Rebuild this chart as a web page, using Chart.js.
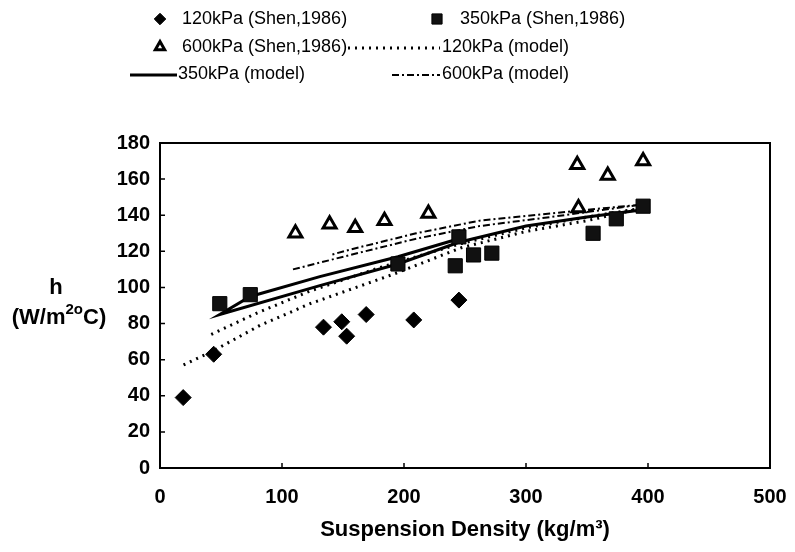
<!DOCTYPE html>
<html>
<head>
<meta charset="utf-8">
<script src="https://cdn.jsdelivr.net/npm/chart.js@4.4.1/dist/chart.umd.min.js"></script>
<style>
  html, body { margin: 0; padding: 0; background: #fff; }
</style>
</head>
<body>
<canvas id="canvas" width="795" height="552"></canvas>
<script>
// measured points, [density kg/m3, h W/m2C]
const shen120 = [[19,39],[44,63],[134,78],[149,81],[153,73],[169,85],[208,82],[245,93]];
const shen350 = [[49,91],[74,96],[195,113],[242,112],[245,128],[257,118],[272,119],[355,130],[374,138],[396,145]];
const shen600 = [[111,130],[139,135],[160,133],[184,137],[220,141],[342,168],[343,144],[367,162],[396,170]];

// model curves (each traced out and back, like in the figure)
const model120 = [[42,74],[80,86],[123,98],[180,111],[245,124],[300,133],[350,139],[396,144],
                  [350,137],[300,131],[247,122],[190,107],[123,91],[82,79],[44,65],[19,57]];
const model350 = [[245,127],[195,117],[131,106],[74,95],[49,85],[131,101],[195,113],[245,125],
                  [300,134],[350,139],[396,143]];
const model600 = [[109,110],[156,118],[210,127],[262,134],[320,139],[396,146],
                  [320,141],[262,137],[210,130],[156,121],[140,118]];

const legendLabels = ['120kPa (Shen,1986)', '350kPa (Shen,1986)', '600kPa (Shen,1986)',
                      '120kPa (model)', '350kPa (model)', '600kPa (model)'];

const xTitle = 'Suspension Density (kg/m\u00b3)';
const yTicks = [0, 20, 40, 60, 80, 100, 120, 140, 160, 180];
const xTicks = [0, 100, 200, 300, 400, 500];

const pts = arr => arr.map(p => ({x: p[0], y: p[1]}));
const FONT = '"Liberation Sans", Arial, sans-serif';

const frame = {
  id: 'frame',
  afterDraw(chart) {
    const {ctx, chartArea: a, scales} = chart;
    ctx.save();
    ctx.strokeStyle = '#000';
    ctx.lineWidth = 2;
    ctx.strokeRect(a.left, a.top, a.right - a.left, a.bottom - a.top);
    ctx.lineWidth = 1.5;
    ctx.beginPath();
    yTicks.forEach(v => {
      const y = scales.y.getPixelForValue(v);
      ctx.moveTo(a.left, y); ctx.lineTo(a.left + 5, y);
    });
    xTicks.forEach(v => {
      const x = scales.x.getPixelForValue(v);
      ctx.moveTo(x, a.bottom); ctx.lineTo(x, a.bottom - 5);
    });
    ctx.stroke();

    // y axis title, horizontal with superscripts
    ctx.fillStyle = '#000';
    ctx.textBaseline = 'middle';
    ctx.textAlign = 'center';
    ctx.font = 'bold 22px ' + FONT;
    ctx.fillText('h', 56, 288);
    const parts = [['(W/m', 22, 0], ['2o', 15, -8], ['C)', 22, 0]];
    let w = 0;
    parts.forEach(p => { ctx.font = 'bold ' + p[1] + 'px ' + FONT; w += ctx.measureText(p[0]).width; });
    let x = 59 - w / 2;
    ctx.textAlign = 'left';
    parts.forEach(p => {
      ctx.font = 'bold ' + p[1] + 'px ' + FONT;
      ctx.fillText(p[0], x, 318 + p[2]);
      x += ctx.measureText(p[0]).width;
    });
    ctx.restore();
  }
};

const legendBox = {
  id: 'legendBox',
  afterDraw(chart) {
    const ctx = chart.ctx;
    const ds = chart.data.datasets;
    // [x of symbol/line start, x of line end, text x, y]
    const spots = [[160, 0, 182, 19], [437, 0, 460, 19], [160, 0, 182, 47],
                   [348, 440, 442, 47], [130, 177, 178, 74], [392, 440, 442, 74]];
    ctx.save();
    ds.forEach((d, i) => {
      const s = spots[i];
      ctx.strokeStyle = '#000';
      if (d.showLine) {
        ctx.lineWidth = d.borderWidth;
        ctx.setLineDash(d.borderDash || []);
        ctx.beginPath();
        ctx.moveTo(s[0], s[3] + 1);
        ctx.lineTo(s[1], s[3] + 1);
        ctx.stroke();
        ctx.setLineDash([]);
      } else {
        ctx.fillStyle = d.pointBackgroundColor;
        ctx.lineWidth = d.pointBorderWidth;
        Chart.helpers.drawPoint(ctx, {
          pointStyle: d.pointStyle,
          radius: d.pointRadius * 0.72,
          rotation: 0,
          borderWidth: d.pointBorderWidth
        }, s[0], s[3]);
      }
      ctx.fillStyle = '#000';
      ctx.font = '18px ' + FONT;
      ctx.textAlign = 'left';
      ctx.textBaseline = 'middle';
      ctx.fillText(legendLabels[i], s[2], s[3]);
    });
    ctx.restore();
  }
};

const ctx = document.getElementById('canvas').getContext('2d');
const myChart = new Chart(ctx, {
  type: 'scatter',
  data: {
    datasets: [{
      data: pts(shen120),
      pointStyle: 'rectRot',
      pointRadius: 8,
      pointBackgroundColor: '#000',
      pointBorderColor: '#000',
      pointBorderWidth: 1
    }, {
      data: pts(shen350),
      pointStyle: 'rect',
      pointRadius: 10,
      pointBackgroundColor: '#111',
      pointBorderColor: '#000',
      pointBorderWidth: 1
    }, {
      data: pts(shen600),
      pointStyle: 'triangle',
      pointRadius: 7.5,
      pointBackgroundColor: '#fff',
      pointBorderColor: '#000',
      pointBorderWidth: 3
    }, {
      data: pts(model120),
      showLine: true,
      pointRadius: 0,
      borderColor: '#000',
      borderWidth: 3,
      borderDash: [2, 5]
    }, {
      data: pts(model350),
      showLine: true,
      pointRadius: 0,
      borderColor: '#000',
      borderWidth: 3
    }, {
      data: pts(model600),
      showLine: true,
      pointRadius: 0,
      borderColor: '#000',
      borderWidth: 2,
      borderDash: [7, 3, 2, 3]
    }]
  },
  options: {
    responsive: false,
    animation: false,
    events: [],
    layout: {
      padding: {top: 143, right: 25, left: 0, bottom: 0}
    },
    scales: {
      x: {
        type: 'linear',
        min: 0,
        max: 500,
        afterFit: s => { s.height = 84; s.paddingLeft = 0; s.paddingRight = 0; },
        afterBuildTicks: s => { s.ticks = xTicks.map(v => ({value: v})); },
        grid: {display: false, drawTicks: false},
        border: {display: false},
        ticks: {color: '#000', padding: 17, font: {family: FONT, size: 20, weight: 'bold'}},
        title: {
          display: true,
          text: xTitle,
          color: '#000',
          padding: {top: 0, bottom: 9},
          font: {family: FONT, size: 22, weight: 'bold'}
        }
      },
      y: {
        min: 0,
        max: 180,
        afterFit: s => { s.width = 160; s.paddingTop = 0; s.paddingBottom = 0; },
        afterBuildTicks: s => { s.ticks = yTicks.map(v => ({value: v})); },
        grid: {display: false, drawTicks: false},
        border: {display: false},
        ticks: {color: '#000', padding: 10, font: {family: FONT, size: 20, weight: 'bold'}}
      }
    },
    plugins: {
      legend: {display: false},
      tooltip: {enabled: false}
    }
  },
  plugins: [frame, legendBox]
});
</script>
</body>
</html>
